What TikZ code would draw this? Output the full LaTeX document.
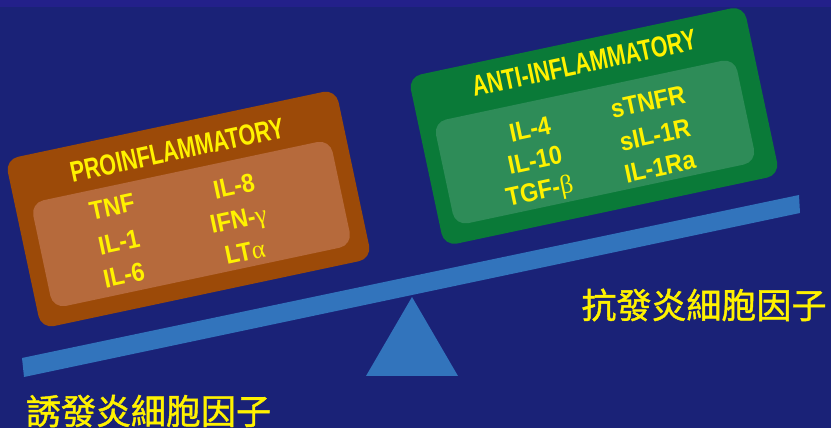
\documentclass[tikz,border=0pt]{standalone}
\usepackage{fontspec}
\setmainfont{Liberation Sans}
\newfontfamily\titlefont[FakeStretch=0.74]{Liberation Sans}
\newfontfamily\itemfont[FakeStretch=0.9]{Liberation Sans}
\newfontfamily\greekfont{Liberation Serif}
\newfontfamily\cjkfont[FakeBold=1.2]{Noto Sans CJK TC}
\newcommand{\gk}[1]{{\greekfont\mdseries #1}}
\definecolor{bgnavy}{RGB}{26,34,119}
\definecolor{topband}{RGB}{35,32,138}
\definecolor{beamblue}{RGB}{50,116,188}
\definecolor{orangeout}{RGB}{156,74,8}
\definecolor{orangein}{RGB}{182,106,60}
\definecolor{greenout}{RGB}{10,122,56}
\definecolor{greenin}{RGB}{46,140,88}
\definecolor{txtyellow}{RGB}{255,242,0}
\tikzset{
  panel/.style={rounded corners=13pt, inner sep=0pt, rotate=12},
  boxtitle/.style={text=txtyellow, font=\titlefont\bfseries\fontsize{29}{29}\selectfont, rotate=12, inner sep=0pt},
  item/.style={text=txtyellow, font=\itemfont\bfseries\fontsize{26}{26}\selectfont, rotate=12, inner sep=0pt},
  cjk/.style={text=txtyellow, font=\cjkfont\fontsize{35}{35}\selectfont, inner sep=0pt},
  beamfill/.style={fill=beamblue, draw=none}
}
\begin{document}
\begin{tikzpicture}[x=1pt,y=1pt]
\useasboundingbox (0,0) rectangle (831,428);
\fill[bgnavy] (0,0) rectangle (831,428);
\fill[topband] (0,421) rectangle (831,428);
% beam and fulcrum
\fill[beamfill] (22,70) -- (799,233) -- (800,215) -- (24,51) -- cycle;
\fill[beamfill] (412,131) -- (458,52) -- (366,52) -- cycle;
% proinflammatory box
\node[panel, fill=orangeout, minimum width=338pt, minimum height=173pt] (probox) at (188.5,219) {};
\node[panel, fill=orangein, minimum width=306pt, minimum height=108pt] (proinner) at (191.5,204) {};
\node[boxtitle] (protitle) at (177,278) {PROINFLAMMATORY};
\node[item] (tnf) at (112,221) {TNF};
\node[item] (il1) at (119,186) {IL-1};
\node[item] (il6) at (124,153) {IL-6};
\node[item] (il8) at (234,242) {IL-8};
\node[item] (ifng) at (239,206) {IFN-\gk{γ}};
\node[item] (lta) at (245,176) {LT\gk{α}};
% anti-inflammatory box
\node[panel, fill=greenout, minimum width=343pt, minimum height=173pt] (antibox) at (594,302) {};
\node[panel, fill=greenin, minimum width=308pt, minimum height=106pt] (antiinner) at (595,286) {};
\node[boxtitle] (antititle) at (584,365) {ANTI-INFLAMMATORY};
\node[item] (il4) at (530,299) {IL-4};
\node[item] (il10) at (535,268) {IL-10};
\node[item] (tgfb) at (540,235) {TGF-\gk{β}};
\node[item] (stnfr) at (648,326) {sTNFR};
\node[item] (sil1r) at (655,293) {sIL-1R};
\node[item] (il1ra) at (660,261) {IL-1Ra};
% captions
\node[cjk] (antilabel) at (704,123) {抗發炎細胞因子};
\node[cjk] (prolabel) at (148.5,17) {誘發炎細胞因子};
\end{tikzpicture}
\end{document}
